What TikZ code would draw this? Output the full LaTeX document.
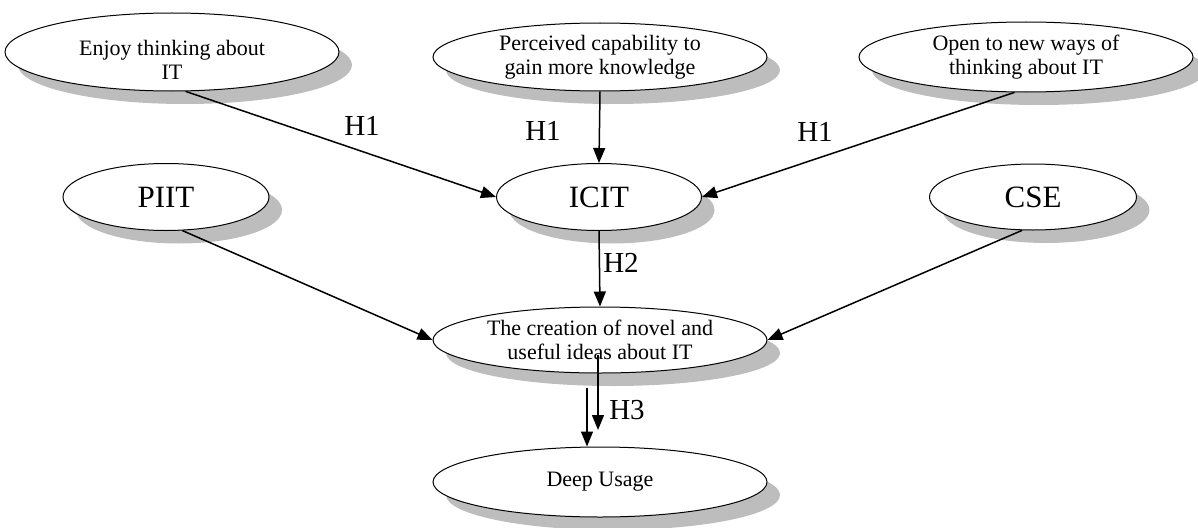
\documentclass[tikz,border=0pt]{standalone}
\usepackage{fontspec}
\setmainfont{Liberation Serif}
\usetikzlibrary{shapes.geometric,arrows.meta,shadows}
\begin{document}
\begin{tikzpicture}[x=1pt,y=-1pt,
  oval/.style={ellipse, draw, line width=1pt, fill=white, inner sep=0pt, align=center,
    drop shadow={shadow xshift=13pt, shadow yshift=-13pt, fill=black!26, opacity=1, draw=none}},
  small/.style={font=\fontsize{22}{24}\selectfont},
  big/.style={font=\fontsize{31}{34}\selectfont},
  hlab/.style={font=\fontsize{29}{32}\selectfont, inner sep=0pt},
  arr/.style={-{Triangle[length=15pt,width=12pt]}, line width=1.5pt}]
\useasboundingbox (0,0) rectangle (1198,527);

\node[oval, minimum width=334pt, minimum height=78pt,
  label={[small, align=center, yshift=-8pt]center:{Enjoy thinking about\\IT}}] (enjoy) at (172,52) {};
\node[oval, small, minimum width=334pt, minimum height=68pt] (perc) at (600,57) {Perceived capability to\\gain more knowledge};
\node[oval, small, minimum width=334pt, minimum height=70pt] (open) at (1026,57) {Open to new ways of\\thinking about IT};
\node[oval, big, minimum width=206pt, minimum height=67pt] (piit) at (166,197) {PIIT};
\node[oval, big, minimum width=205pt, minimum height=67pt] (icit) at (599,197) {ICIT};
\node[oval, big, minimum width=207pt, minimum height=66pt] (cse) at (1033,197) {CSE};
\node[oval, small, minimum width=334pt, minimum height=66pt] (creation) at (600,340) {The creation of novel and\\useful ideas about IT};
\node[oval, small, minimum width=334pt, minimum height=70pt] (deep) at (600,482) {Deep Usage};

\draw[arr] (enjoy.-71) -- (icit.west);
\draw[arr] (perc.south) -- (icit.north);
\draw[arr] (open.-108) -- (icit.east);
\draw[arr] (piit.-64) -- (creation.west);
\draw[arr] (cse.-108) -- (creation.east);
\draw[arr] (icit.south) -- (creation.north);

\coordinate (h3s) at (598,355);
\coordinate (h3e) at (598,430);
\coordinate (h3t) at (587,388);
\draw[arr] (h3s) -- (h3e);
\draw[arr] (h3t) -- (h3t |- deep.north);

\node[hlab] (l1) at (362,126) {H1};
\node[hlab] (l2) at (543,131) {H1};
\node[hlab] (l3) at (815,132) {H1};
\node[hlab] (l4) at (621,263) {H2};
\node[hlab] (l5) at (627,410) {H3};
\end{tikzpicture}
\end{document}
